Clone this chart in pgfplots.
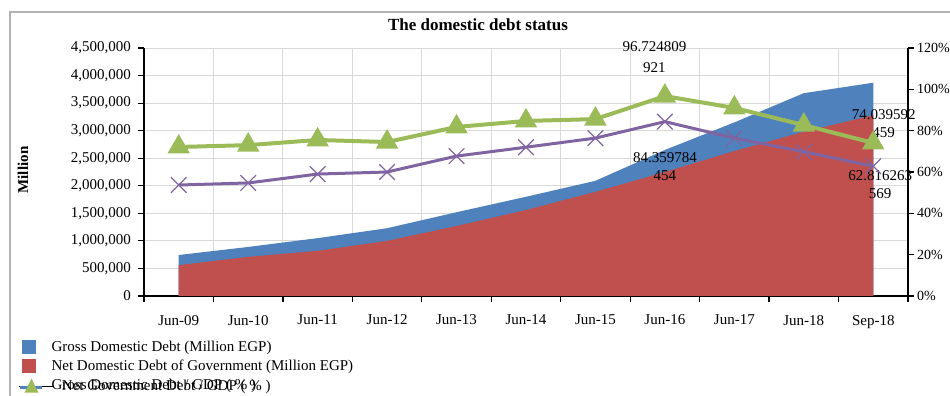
\documentclass[border=0pt]{standalone}
\usepackage{pgfplots}
\pgfplotsset{compat=1.18}
\usepackage{fontspec}
\setmainfont{Liberation Serif}
\definecolor{gblue}{HTML}{4F81BD}
\definecolor{gred}{HTML}{C0504D}
\definecolor{ggreen}{HTML}{9BBB59}
\definecolor{gpurple}{HTML}{8064A2}
\begin{document}
\begin{tikzpicture}
\useasboundingbox (-72pt,-50pt) rectangle (403pt,148pt);
\clip (-72pt,-50pt) rectangle (403pt,148pt);
\draw[gray!60, line width=1pt] (-67pt,-60pt) rectangle (410pt,142pt);
\begin{axis}[
  at={(0pt,0pt)}, anchor=south west,
  scale only axis, width=382pt, height=124pt,
  xmin=-0.5, xmax=10.5, ymin=0, ymax=4500000,
  axis y line*=left, axis x line*=bottom,
  axis line style={line width=0.8pt},
  xtick={0,...,10},
  xticklabels={Jun-09,Jun-10,Jun-11,Jun-12,Jun-13,Jun-14,Jun-15,Jun-16,Jun-17,Jun-18,Sep-18},
  major x tick style={draw=none},
  minor xtick={-0.5,0.5,...,10.5},
  minor tick length=3pt,
  xminorgrids, ymajorgrids,
  grid style={gray!30, line width=0.5pt},
  ytick={0,500000,...,4500000},
  tick align=outside, major tick length=3pt,
  tick style={black, line width=0.6pt},
  scaled y ticks=false,
  yticklabel style={/pgf/number format/.cd, fixed, 1000 sep={,}, assume math mode=true},
  ticklabel style={font=\fontsize{7.5}{9}\selectfont},
  xticklabel style={yshift=-3pt},
  legend style={at={(-0.172,-0.31)}, anchor=north west, draw=none, fill=none,
    font=\fontsize{7.5}{9}\selectfont, column sep=0pt,
    nodes={inner sep=0.8pt, text height=6pt, text depth=2pt}},
  legend cell align=left,
]
\addplot[fill=gblue, draw=none] coordinates {
(0,744000) (1,890000) (2,1050000) (3,1230000) (4,1520000) (5,1800000) (6,2090000) (7,2650000) (8,3150000) (9,3680000) (10,3870000)
} \closedcycle;
\addplot[fill=gred, draw=none] coordinates {
(0,560000) (1,710000) (2,820000) (3,1000000) (4,1270000) (5,1560000) (6,1890000) (7,2250000) (8,2630000) (9,2980000) (10,3280000)
} \closedcycle;
\addlegendimage{legend image code/.code={\draw[gpurple, line width=0.6pt] (1pt,-4pt) -- (8pt,-11pt) (1pt,-11pt) -- (8pt,-4pt); \path[draw=none,fill=none] (0pt,0pt) -- (9pt,0pt);}}
\addlegendentry{\hspace{3.2pt}Net Government Debt / GDP ( \% )}
\end{axis}
\begin{axis}[
  at={(0pt,0pt)}, anchor=south west,
  scale only axis, width=382pt, height=124pt,
  xmin=-0.5, xmax=10.5, ymin=0, ymax=120,
  hide x axis, clip=false,
  axis y line*=right,
  axis line style={line width=0.8pt},
  ytick={0,20,...,120},
  yticklabels={0\%,20\%,40\%,60\%,80\%,100\%,120\%},
  tick align=outside, major tick length=3pt,
  tick style={black, line width=0.6pt},
  ticklabel style={font=\fontsize{7}{9}\selectfont},
  yticklabel style={xshift=-2pt},
  legend style={at={(-0.172,-0.15)}, anchor=north west, draw=none, fill=none,
    font=\fontsize{7.5}{9}\selectfont, row sep=0pt, column sep=0pt,
    nodes={inner sep=0.8pt, text height=6pt, text depth=2pt}},
  legend cell align=left,
]
\addlegendimage{legend image code/.code={\fill[gblue, draw=none] (0pt,-3.5pt) rectangle (7pt,3.5pt); \path[draw=none,fill=none] (0pt,0pt) -- (9pt,0pt);}}
\addlegendentry{\hspace{3pt}Gross Domestic Debt (Million EGP)}
\addlegendimage{legend image code/.code={\fill[gred, draw=none] (0pt,-3.5pt) rectangle (7pt,3.5pt); \path[draw=none,fill=none] (0pt,0pt) -- (9pt,0pt);}}
\addlegendentry{\hspace{3pt}Net Domestic Debt of Government (Million EGP)}
\addplot[color=ggreen, line width=2pt, mark=triangle*, mark size=4.5pt, mark options={solid},
  legend image code/.code={\draw[gblue, line width=1.5pt] (-1pt,-1pt) -- (10pt,-1pt); \fill[ggreen, draw=none] (1pt,-3.5pt) -- (8pt,-3.5pt) -- (4.5pt,3.5pt) -- cycle;}] coordinates {
(0,72.1) (1,73.0) (2,75.5) (3,74.5) (4,81.8) (5,84.7) (6,85.6) (7,96.724809921) (8,91.0) (9,82.7) (10,74.039592459)
};
\addlegendentry{\hspace{3pt}Gross Domestic Debt / GDP ( \% )}
\addplot[color=gpurple, line width=1.5pt, mark=x, mark size=5.5pt, mark options={line width=0.6pt}, forget plot] coordinates {
(0,53.7) (1,54.7) (2,59.0) (3,60.0) (4,67.7) (5,72.0) (6,76.4) (7,84.359784454) (8,76.4) (9,69.8) (10,62.816263569)
};
\node[font=\fontsize{7.5}{10.5}\selectfont, align=center, anchor=south] at (axis cs:6.85,104.5) {96.724809\\921};
\node[font=\fontsize{7.5}{9}\selectfont, align=center, anchor=north] at (axis cs:7,73) {84.359784\\454};
\node[font=\fontsize{7.5}{9}\selectfont, align=center, anchor=south] at (axis cs:10.15,73) {74.039592\\459};
\node[font=\fontsize{7.5}{9}\selectfont, align=center, anchor=north] at (axis cs:10.1,64) {62.816263\\569};
\end{axis}
\node[font=\bfseries\fontsize{8.5}{10}\selectfont] at (167pt,135.5pt) {The domestic debt status};
\node[font=\bfseries\fontsize{7.5}{9}\selectfont, rotate=90] at (-60.5pt,63pt) {Million};
\end{tikzpicture}
\end{document}
